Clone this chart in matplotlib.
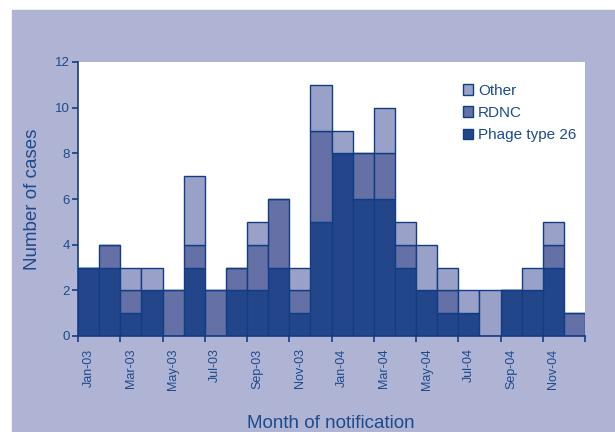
import matplotlib.pyplot as plt
import numpy as np

plt.rcParams['font.family'] = ['Liberation Sans', 'DejaVu Sans']

months = ["Jan-03", "Feb-03", "Mar-03", "Apr-03", "May-03", "Jun-03",
          "Jul-03", "Aug-03", "Sep-03", "Oct-03", "Nov-03", "Dec-03",
          "Jan-04", "Feb-04", "Mar-04", "Apr-04", "May-04", "Jun-04",
          "Jul-04", "Aug-04", "Sep-04", "Oct-04", "Nov-04", "Dec-04"]
phage26 = [3, 3, 1, 2, 0, 3, 0, 2, 2, 3, 1, 5, 8, 6, 6, 3, 2, 1, 1, 0, 2, 2, 3, 0]
rdnc    = [0, 1, 1, 0, 2, 1, 2, 1, 2, 3, 1, 4, 0, 2, 2, 1, 0, 1, 0, 0, 0, 0, 1, 1]
other   = [0, 0, 1, 1, 0, 3, 0, 0, 1, 0, 1, 2, 1, 0, 2, 1, 2, 1, 1, 2, 0, 1, 1, 0]

bg = "#b0b4d4"
txt = "#1d4a8c"
edge = "#123c84"
c_p26 = "#23468a"
c_rdnc = "#6470a6"
c_other = "#99a1c8"

fig = plt.figure(figsize=(6.15, 4.32), dpi=100, facecolor="white")
# lavender panel with thin white margin at top and left
fig.patches.append(plt.Rectangle((12 / 615, 0), 1, (432 - 10) / 432,
                                 transform=fig.transFigure, color=bg, zorder=-10))

ax = fig.add_axes([78 / 615, (432 - 336) / 432, 507 / 615, 274 / 432])
ax.set_facecolor("white")

x = np.arange(len(months))
p26 = np.array(phage26)
rd = np.array(rdnc)
ot = np.array(other)
kw = dict(width=1.0, edgecolor=edge, linewidth=1.0)
ax.bar(x, p26, color=c_p26, label="Phage type 26", **kw)
ax.bar(x, rd, bottom=p26, color=c_rdnc, label="RDNC", **kw)
ax.bar(x, ot, bottom=p26 + rd, color=c_other, label="Other", **kw)

ax.set_xlim(-0.5, 23.5)
ax.set_ylim(0, 12)
ax.set_yticks(range(0, 13, 2))

ax.set_xticks(np.arange(-0.5, 24, 2))
ax.set_xticklabels([])
ax.set_xticks(x[::2], minor=True)
ax.set_xticklabels(months[::2], minor=True, rotation=90)
ax.tick_params(axis="x", which="minor", length=0, pad=9, labelsize=9, labelcolor=txt)
ax.tick_params(axis="x", which="major", length=4, color=edge, width=1.2)
ax.tick_params(axis="y", length=4, color=edge, width=1.2, labelsize=9.5,
               labelcolor=txt, pad=2)

for s in ["top", "right"]:
    ax.spines[s].set_visible(False)
for s in ["left", "bottom"]:
    ax.spines[s].set_color(edge)
    ax.spines[s].set_linewidth(1.2)

ax.set_ylabel("Number of cases", fontsize=13.5, color=txt, labelpad=10)
fig.text(331 / 615, 1 - 424 / 432, "Month of notification", fontsize=13.5,
         color=txt, ha="center", va="center")

handles, labels = ax.get_legend_handles_labels()
leg = ax.legend(handles[::-1], labels[::-1], loc="upper left",
                bbox_to_anchor=(455 / 615, 1 - 76 / 432),
                bbox_transform=fig.transFigure, frameon=False,
                fontsize=11, handlelength=0.7, handleheight=0.7,
                handletextpad=0.3, labelspacing=0.55, borderpad=0)
for t in leg.get_texts():
    t.set_color(txt)

fig.savefig("out.png", dpi=100, facecolor="white")
